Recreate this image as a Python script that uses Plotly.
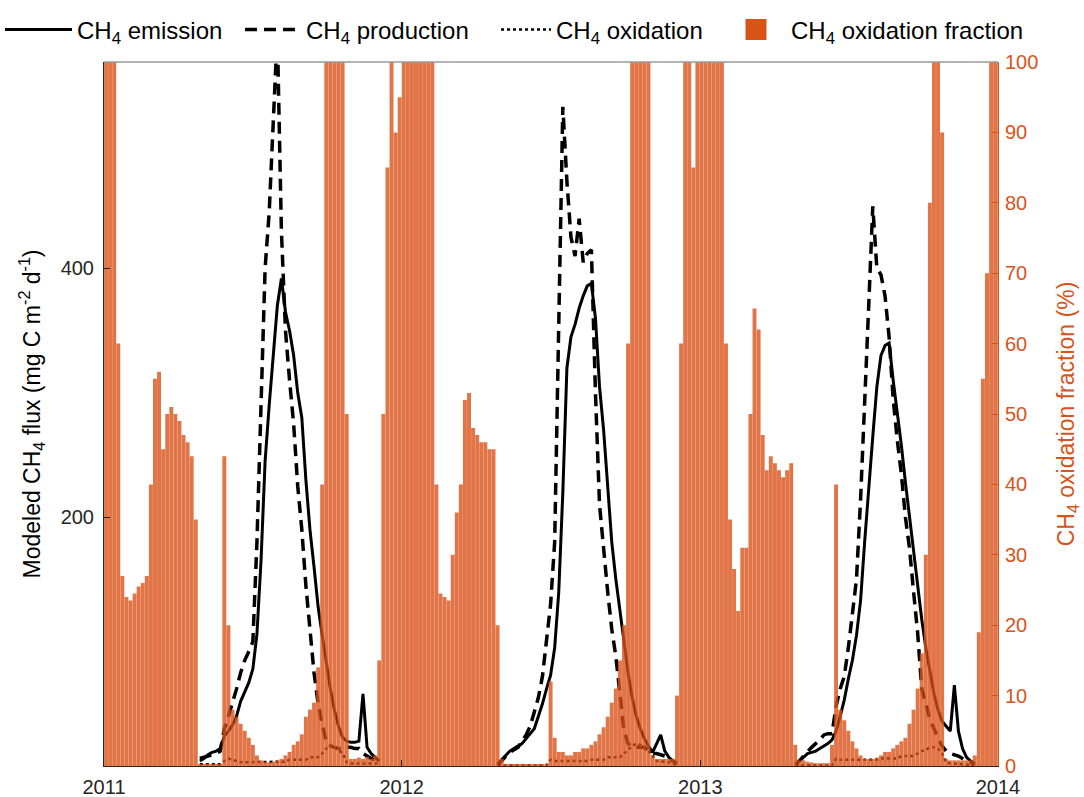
import numpy as np
import pandas as pd
import plotly.graph_objects as go

# ---------------- data (5-day resolution, starting 2011-01-01) ----------------
BASE_DATE = "2011-01-01"
STEP_DAYS = 5

# CH4 oxidation fraction (%), right axis
FRAC = [
    100, 100, 100, 60, 27, 24, 23.5, 24.5, 25.5, 26, 27, 40, 55, 56, 45, 50, 51, 50, 49, 47,
    46, 44, 35, 0.3, 0.3, 0.3, 0.3, 0.3, 0.3, 44, 20, 8, 7, 6, 5, 4, 3, 1.5, 0.8, 0.6,
    0.5, 0.6, 0.8, 1, 1.5, 2, 3, 3.5, 4.5, 7, 8, 9, 14, 40, 100, 100, 100, 100, 100, 50,
    1, 1, 1.2, 1, 1.3, 1, 1.5, 15, 50, 85, 100, 90, 95, 100, 100, 100, 100, 100, 100, 100,
    100, 40, 24.5, 24, 23.5, 30, 36, 40, 52, 53, 48, 47, 46, 46, 45, 45, 20, 1, 0.3, 0.3,
    0.3, 0.3, 0.3, 0.3, 0.3, 0.3, 0.3, 0.3, 0.3, 12, 4, 2, 2, 1.5, 1.5, 2, 2, 2.5, 2.5, 3,
    3.5, 4.5, 5.5, 7, 9, 11, 15, 20, 60, 100, 100, 100, 100, 100, 1.5, 1, 1, 1, 1, 1,
    10, 60, 100, 100, 85, 100, 100, 100, 100, 100, 100, 100, 60, 35, 28, 22, 31, 31, 50, 65,
    62, 47, 42, 44, 43, 42, 41, 42, 43, 3, 0.8, 0.8, 0.6, 0.5, 0.4, 0.4, 0.4, 0.4, 3, 40,
    8, 6.5, 5, 3.5, 2.5, 1.5, 1, 1, 1, 1.2, 1.5, 2, 2, 2.5, 3, 3.5, 4, 6, 8, 11,
    16, 30, 80, 100, 100, 90, 1, 0.8, 0.8, 0.8, 0.8, 0.8, 0.8, 1.5, 19, 55, 70, 100, 100, 100,
]

# growing-season start dates (5-day steps after each start)
SEASON_STARTS = ["2011-04-26", "2012-04-25", "2013-04-25"]

# CH4 emission (mg C m-2 d-1), left axis
EMIS_2011 = [4, 6, 9, 11, 12, 14, 24, 28, 33, 40, 52, 60, 67, 78, 106, 165, 245, 290, 330, 370,
             392, 365, 350, 330, 300, 280, 230, 190, 160, 128, 105, 83, 62, 45, 32, 23, 20, 19, 19, 20,
             58, 15, 10, 7, 4]
EMIS_2012 = [1.5, 5, 9, 12, 14, 16, 18, 22, 26, 30, 40, 50, 62, 73, 95, 140, 220, 320, 345, 355,
             368, 378, 386, 388, 360, 305, 270, 225, 180, 150, 125, 100, 75, 55, 40, 30, 22, 16, 11, 18,
             25, 12, 7, 4, 2]
EMIS_2013 = [1, 4, 7, 10, 11, 12, 14, 16, 18, 21, 28, 40, 53, 70, 85, 105, 133, 180, 225, 265,
             305, 330, 338, 340, 310, 285, 258, 228, 200, 170, 147, 118, 95, 75, 58, 45, 36, 32, 28, 65,
             28, 14, 7, 4, 2]

# CH4 production
PROD_2011 = [6, 7, 8, 9, 10, 12, 30, 40, 50, 62, 75, 85, 92, 100, 180, 300, 400, 445, 520, 590,
             430, 350, 310, 275, 225, 190, 145, 110, 75, 50, 33, 20, 16, 15, 14, 14, 15, 15, 14, 14,
             10, 8, 6, 5, 3]
PROD_2012 = [1, 4, 8, 11, 13, 15, 20, 25, 32, 43, 55, 72, 100, 130, 180, 340, 530, 470, 425, 410,
             440, 405, 412, 415, 300, 210, 172, 140, 110, 88, 58, 28, 18, 15, 15, 15, 15, 12, 10, 10,
             9, 8, 6, 4, 2]
PROD_2013 = [1, 4, 8, 12, 15, 18, 21, 25, 26, 26, 48, 62, 72, 95, 120, 150, 214, 300, 370, 450,
             400, 395, 378, 345, 295, 262, 235, 200, 175, 140, 107, 62, 50, 38, 30, 22, 16, 12, 10, 9,
             8, 6, 4, 3, 1]

# CH4 oxidation
OXID_2011 = [1.5, 1.5, 1.5, 1.5, 1.5, 1.5, 4, 6, 5, 4, 3, 3, 3, 3, 3, 3, 3, 3.5, 3.5, 3.5,
             3.5, 3.5, 5, 5, 5, 5, 5, 7, 7, 7, 10, 14, 17, 15, 13, 10, 3, 2, 2, 2,
             2, 2, 2, 2, 2]
OXID_2012 = [0.5, 0.5, 0.5, 0.5, 0.5, 0.5, 0.5, 0.5, 0.5, 0.5, 0.5, 0.5, 0.5, 5, 4, 4, 4, 4, 4, 4,
             4, 4, 4, 5, 5, 5, 5, 7, 7, 7, 7, 10, 13, 16, 18, 17, 14, 12, 8, 4,
             4, 3, 3, 2, 1]
OXID_2013 = [0.5, 0.5, 0.5, 0.5, 0.5, 0.5, 0.5, 0.5, 0.5, 0.5, 6, 5, 5, 5, 5, 5, 5, 5, 5, 5,
             5, 6, 6, 6, 6, 6, 8, 8, 8, 8, 10, 12, 13, 15, 15, 14, 10, 3, 2, 2,
             1.5, 1.5, 1, 1, 1]

YEAR_TICKS = ["2011-01-01", "2012-01-01", "2013-01-01", "2014-01-01"]
YEAR_LABELS = ["2011", "2012", "2013", "2014"]

# ---------------- build ----------------
ORANGE = "#D95319"
half = pd.to_timedelta(STEP_DAYS / 2, unit="D")
bar_x = pd.Timestamp(BASE_DATE) + pd.to_timedelta(np.arange(len(FRAC)) * STEP_DAYS, unit="D") + half


def season_series(seasons):
    xs, ys = [], []
    for start, vals in zip(SEASON_STARTS, seasons):
        d = pd.date_range(start, periods=len(vals), freq=f"{STEP_DAYS}D") + half
        xs += list(d) + [None]
        ys += list(vals) + [None]
    return xs, ys


ex, ey = season_series([EMIS_2011, EMIS_2012, EMIS_2013])
px_, py_ = season_series([PROD_2011, PROD_2012, PROD_2013])
ox, oy = season_series([OXID_2011, OXID_2012, OXID_2013])

fig = go.Figure()
fig.add_trace(go.Scatter(x=ex, y=ey, mode="lines", name="CH<sub>4</sub> emission",
                         line=dict(color="black", width=3), yaxis="y", legend="legend"))
fig.add_trace(go.Scatter(x=px_, y=py_, mode="lines", name="CH<sub>4</sub> production",
                         line=dict(color="black", width=3.5, dash="12px,7px"), yaxis="y",
                         legend="legend2"))
fig.add_trace(go.Scatter(x=ox, y=oy, mode="lines", name="CH<sub>4</sub> oxidation",
                         line=dict(color="black", width=2.5, dash="dot"), yaxis="y",
                         legend="legend3"))
fig.add_trace(go.Bar(x=bar_x, y=FRAC, name="CH<sub>4</sub> oxidation fraction", yaxis="y2",
                     width=STEP_DAYS * 0.97 * 86400000, showlegend=False,
                     marker=dict(color="rgba(217,83,25,0.8)", line=dict(width=0))))
# legend-only entry with a larger solid patch for the bar series
fig.add_trace(go.Scatter(x=[None], y=[None], mode="markers", yaxis="y2", legend="legend4",
                         name="CH<sub>4</sub> oxidation fraction",
                         marker=dict(symbol="square", size=16, color=ORANGE,
                                     line=dict(color=ORANGE, width=5))))

FONT = "Liberation Sans, Arial, sans-serif"
L_W, L_PLOT = 1084, 894  # figure width, plot width (px)


def legend_box(px_left, iw):
    return dict(orientation="h", x=(px_left - 104) / L_PLOT, xanchor="left", y=1.0455,
                yanchor="middle", font=dict(size=24, color="black"), itemwidth=iw,
                bgcolor="rgba(0,0,0,0)")


fig.update_layout(
    width=L_W, height=797,
    margin=dict(l=104, r=86, t=62, b=31, autoexpand=False),
    paper_bgcolor="white", plot_bgcolor="white",
    font=dict(family=FONT, size=20, color="#262626"),
    showlegend=True,
    legend=legend_box(0, 67),
    legend2=legend_box(240, 56),
    legend3=legend_box(496, 50),
    legend4=legend_box(721, 60),
    xaxis=dict(type="date", range=["2011-01-01", "2014-01-01"], tickvals=YEAR_TICKS,
               ticktext=YEAR_LABELS, ticks="inside", ticklen=6, tickcolor="#262626",
               showline=True, linecolor="#262626", linewidth=1, showgrid=False,
               zeroline=False, tickfont=dict(size=20), ticklabelstandoff=3),
    yaxis=dict(range=[0, 566], tickvals=[200, 400], ticks="inside", ticklen=6,
               tickcolor="#262626", showline=True, linecolor="#262626", linewidth=1,
               showgrid=False, zeroline=False, tickfont=dict(size=20, color="#262626"),
               ticklabelstandoff=5,
               title=dict(text="Modeled CH<sub>4</sub> flux (mg C m<sup>-2</sup> d<sup>-1</sup>)",
                          font=dict(size=23, color="black"), standoff=13)),
    yaxis2=dict(range=[0, 100], tickvals=list(range(0, 101, 10)), overlaying="y", side="right",
                ticks="inside", ticklen=6, tickcolor=ORANGE, showline=True, linecolor=ORANGE,
                linewidth=1, showgrid=False, zeroline=False,
                tickfont=dict(size=20, color=ORANGE), ticklabelstandoff=2,
                title=dict(text="CH<sub>4</sub> oxidation fraction (%)",
                           font=dict(size=23, color=ORANGE), standoff=20)),
    shapes=[dict(type="line", xref="paper", yref="paper", x0=0, x1=1, y0=1, y1=1,
                 line=dict(color="#9a9a9a", width=1.5))],
)

fig.write_html("out.html", config={"displayModeBar": False},
               post_script="document.body.style.margin='0';")
